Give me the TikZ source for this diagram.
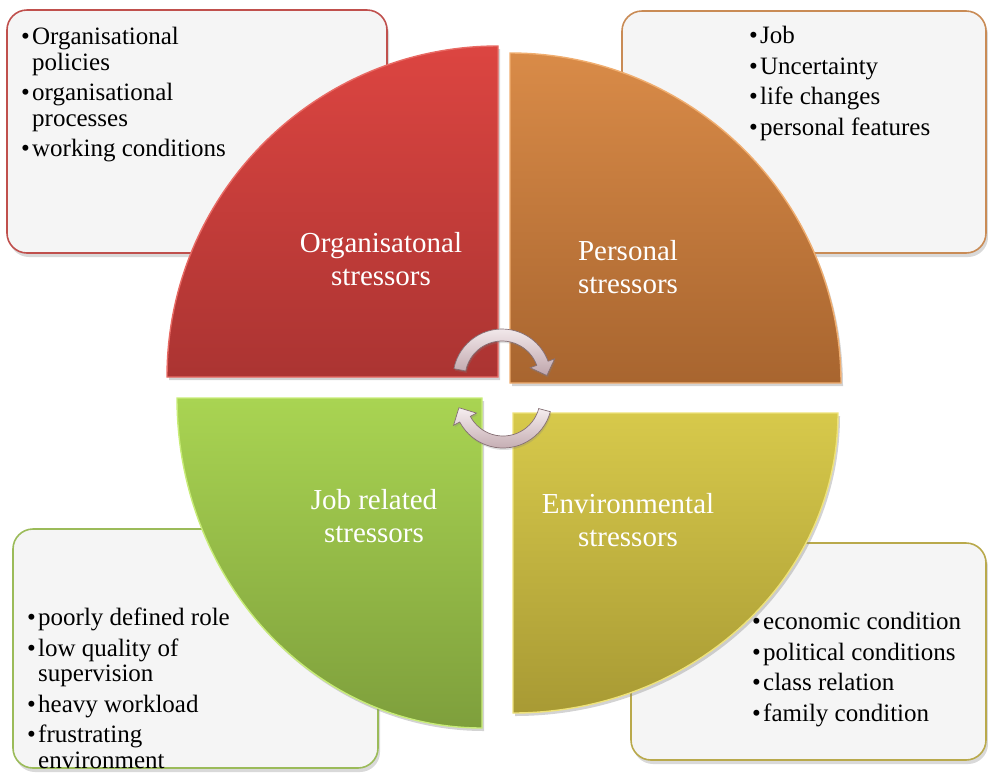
\documentclass[tikz,border=0pt]{standalone}
\usepackage{fontspec}
\setmainfont{Liberation Serif}
\usetikzlibrary{calc,shadows}

\definecolor{boxfill}{HTML}{F5F5F5}
\definecolor{redline}{HTML}{C0504D}
\definecolor{orangeline}{HTML}{C98B55}
\definecolor{greenline}{HTML}{9BBB59}
\definecolor{oliveline}{HTML}{B9A94B}
\definecolor{redtop}{HTML}{DC4541}
\definecolor{redbot}{HTML}{AB3432}
\definecolor{redrim}{HTML}{E86A64}
\definecolor{orangetop}{HTML}{D98B48}
\definecolor{orangebot}{HTML}{A8652F}
\definecolor{orangerim}{HTML}{F0AE70}
\definecolor{greentop}{HTML}{A9D452}
\definecolor{greenbot}{HTML}{7E9F3C}
\definecolor{greenrim}{HTML}{C8EC78}
\definecolor{olivetop}{HTML}{D7C94B}
\definecolor{olivebot}{HTML}{A89A34}
\definecolor{oliverim}{HTML}{EEE27A}
\definecolor{arrowlight}{HTML}{F6EEF0}
\definecolor{arrowdark}{HTML}{BFA5AB}
\definecolor{arrowedge}{HTML}{856F74}

\newcommand{\itm}{\makebox[11pt][l]{\textbullet}}
\newcommand{\ind}{\hspace*{11pt}}

\tikzset{
  infobox/.style={rectangle, rounded corners=20pt, fill=boxfill, line width=1.6pt,
    inner sep=0pt, drop shadow={opacity=0.3, shadow xshift=2pt, shadow yshift=-4pt}},
  wedge/.style={line width=1.4pt,
    drop shadow={opacity=0.35, shadow xshift=2pt, shadow yshift=-3pt}},
  wedgelabel/.style={text=white, font=\fontsize{29}{33}\selectfont, align=center, inner sep=0pt},
  boxtext/.style={font=\fontsize{25}{25.5}\selectfont, align=left, anchor=north west,
    inner sep=0pt, text=black},
  cyclearrow/.style={top color=arrowlight, bottom color=arrowdark, draw=arrowedge, line width=0.7pt,
    drop shadow={opacity=0.25, shadow xshift=1pt, shadow yshift=-2pt}}
}

\begin{document}
\begin{tikzpicture}[x=1pt,y=-1pt]
\useasboundingbox (0,0) rectangle (988,772);

% text panels behind the quadrants
\node[infobox, draw=redline, minimum width=380pt, minimum height=243pt] (tlbox) at (197,131.5) {};
\node[infobox, draw=orangeline, minimum width=364pt, minimum height=242pt] (trbox) at (804,132) {};
\node[infobox, draw=greenline, minimum width=365pt, minimum height=239pt] (blbox) at (195.5,648.5) {};
\node[infobox, draw=oliveline, minimum width=355pt, minimum height=217pt] (brbox) at (808.5,651.5) {};

% the four quadrants
\path[wedge, top color=redtop, bottom color=redbot, draw=redrim]
  (498,377) -- (167,377) arc[start angle=180, end angle=90, x radius=331pt, y radius=331pt] -- cycle;
\path[wedge, top color=orangetop, bottom color=orangebot, draw=orangerim]
  (510,383) -- (510,53) arc[start angle=90, end angle=0, x radius=331pt, y radius=330pt] -- cycle;
\path[wedge, top color=greentop, bottom color=greenbot, draw=greenrim]
  (482,398) -- (177,398) arc[start angle=180, end angle=270, x radius=305pt, y radius=330pt] -- cycle;
\path[wedge, top color=olivetop, bottom color=olivebot, draw=oliverim]
  (513,413) -- (838,413) arc[start angle=0, end angle=-90, x radius=325pt, y radius=300pt] -- cycle;

% quadrant titles
\node[wedgelabel] (orgl) at (381,259) {Organisatonal\\stressors};
\node[wedgelabel] (perl) at (628,267) {Personal\\stressors};
\node[wedgelabel] (jobl) at (374,516) {Job related\\stressors};
\node[wedgelabel] (envl) at (628,520) {Environmental\\stressors};

% panel contents
\node[boxtext] (tltext) at (21,27) {\itm Organisational\\\ind policies\\[5pt]\itm organisational\\\ind processes\\[5pt]\itm working conditions};
\node[boxtext] (trtext) at (749,26) {\itm Job\\[5pt]\itm Uncertainty\\[5pt]\itm life changes\\[5pt]\itm personal features};
\node[boxtext] (bltext) at (27,608) {\itm poorly defined role\\[5pt]\itm low quality of\\\ind supervision\\[5pt]\itm heavy workload\\[5pt]\itm frustrating\\\ind environment};
\node[boxtext] (brtext) at (752,612) {\itm economic condition\\[5pt]\itm political conditions\\[5pt]\itm class relation\\[5pt]\itm family condition};

% circular arrows in the middle
\coordinate (c1) at (502,378);
\coordinate (c2) at (503,399);
\path[cyclearrow]
  ($(c1)+(169:49pt)$) arc[start angle=169, end angle=20, radius=49pt]
  -- ($(c1)+(20:56pt)$) -- ($(c1)+(20:43pt)+(-70:13pt)$) -- ($(c1)+(20:30pt)$)
  -- ($(c1)+(20:37pt)$) arc[start angle=20, end angle=169, radius=37pt] -- cycle;
\path[cyclearrow]
  ($(c2)+(-15:49pt)$) arc[start angle=-15, end angle=-152, radius=49pt]
  -- ($(c2)+(-152:56pt)$) -- ($(c2)+(-152:43pt)+(118:13pt)$) -- ($(c2)+(-152:30pt)$)
  -- ($(c2)+(-152:37pt)$) arc[start angle=-152, end angle=-15, radius=37pt] -- cycle;
\end{tikzpicture}
\end{document}
